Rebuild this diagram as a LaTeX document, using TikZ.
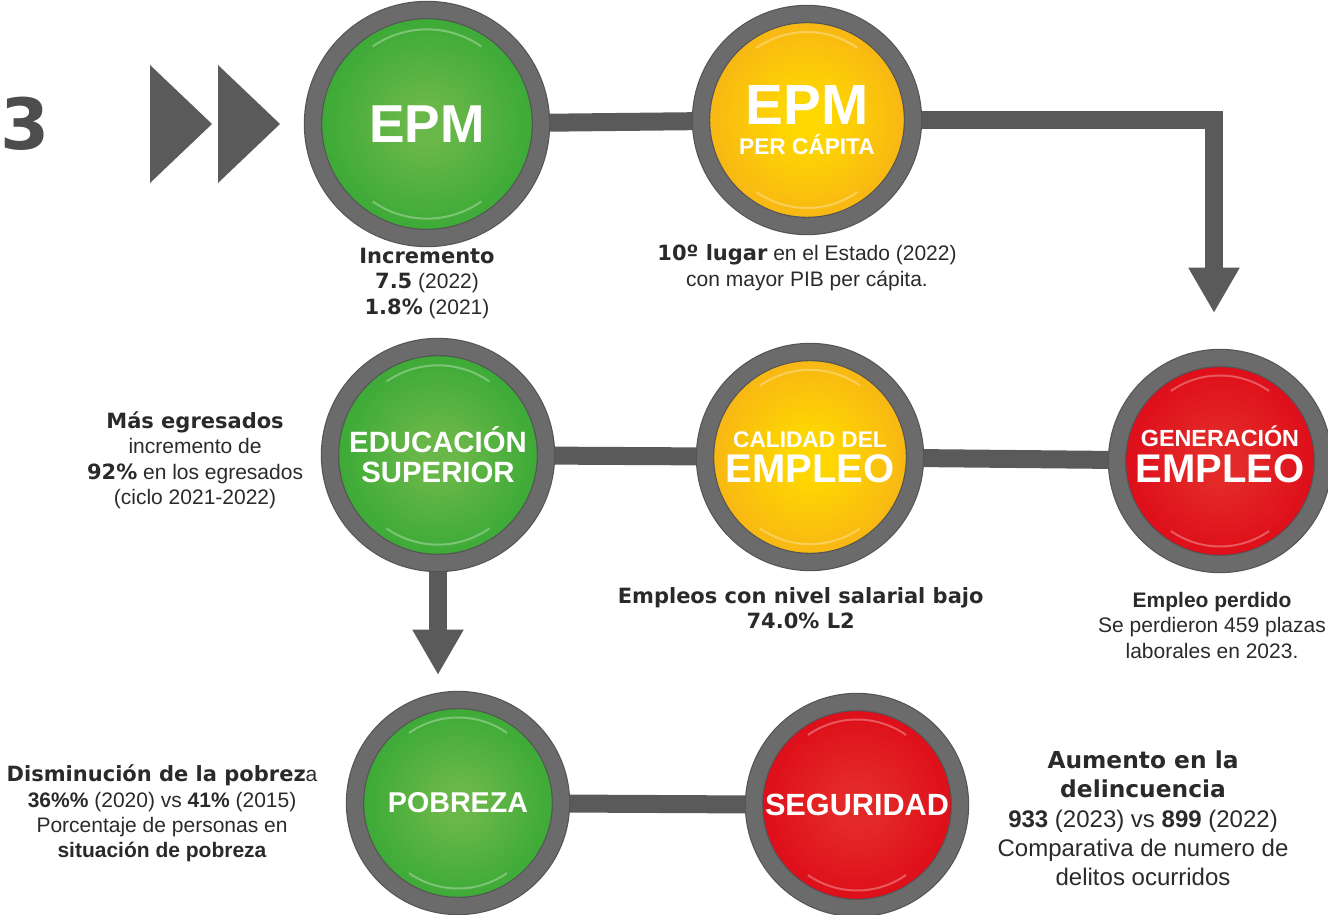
\documentclass[tikz,border=0pt]{standalone}
\usepackage{fontspec}
\setmainfont{Liberation Sans}
\newfontfamily\heavyfont{DejaVu Sans}
\usepackage{xcolor}
\definecolor{greenin}{HTML}{68B748}
\definecolor{greenout}{HTML}{38A935}
\definecolor{yellowin}{HTML}{FFD700}
\definecolor{yellowout}{HTML}{F7B416}
\definecolor{redin}{HTML}{E42A28}
\definecolor{redout}{HTML}{DD0B18}
\definecolor{ringgray}{HTML}{6B6B6B}
\definecolor{ringedge}{HTML}{555555}
\definecolor{bargray}{HTML}{5A5A5A}
\definecolor{numgray}{HTML}{4D4D4D}
\definecolor{inkgray}{HTML}{2A2A2A}
\usetikzlibrary{positioning, calc, backgrounds, arrows.meta}
\pgfdeclareradialshading{glowgreen}{\pgfpointorigin}{color(0bp)=(greenin); color(5bp)=(greenin); color(25bp)=(greenout); color(50bp)=(greenout)}
\pgfdeclareradialshading{glowyellow}{\pgfpointorigin}{color(0bp)=(yellowin); color(5bp)=(yellowin); color(25bp)=(yellowout); color(50bp)=(yellowout)}
\pgfdeclareradialshading{glowred}{\pgfpointorigin}{color(0bp)=(redin); color(5bp)=(redin); color(25bp)=(redout); color(50bp)=(redout)}
\newcommand{\hv}[1]{{\heavyfont\bfseries #1}}

\begin{document}
\begin{tikzpicture}[
  x=0.75pt, y=0.75pt,
  ring/.style={circle, inner sep=0pt, outer sep=0pt, draw=ringedge, line width=0.9pt,
               double=ringgray, double distance=12pt, shade, text=white, align=center},
  greenball/.style={ring, shading=glowgreen},
  yellowball/.style={ring, shading=glowyellow},
  redball/.style={ring, shading=glowred},
  info/.style={inner sep=0pt, align=center, text=inkgray,
               font=\fontsize{15.75}{19}\selectfont},
  bar/.style={draw=bargray, line width=13.5pt},
  bigarrow/.style={bar, -{Triangle[length=34pt, width=36pt]}},
  gloss/.style={draw=white, draw opacity=.3, line width=1.5pt}
]
  \useasboundingbox (0,0) rectangle (1328,914);

  % step number and play marks
  \node[anchor=west, inner sep=0pt, text=numgray,
        font=\heavyfont\bfseries\fontsize{53}{53}\selectfont] (num) at (0,790) {3};
  \fill[bargray] (150,849) -- (212,790) -- (150,731) -- cycle;
  \fill[bargray] (218,849) -- (280,790) -- (218,731) -- cycle;

  % indicators
  \node[greenball, minimum size=171pt, font=\bfseries\fontsize{40}{40}\selectfont]
    (epm) at (427,790) {EPM};
  \node[yellowball, minimum size=159pt, font=\bfseries\fontsize{17}{22}\selectfont]
    (epmpc) at (807,794) {\fontsize{42.5}{42.5}\selectfont EPM\\PER CÁPITA};
  \node[greenball, minimum size=162pt, font=\bfseries\fontsize{22}{22.5}\selectfont]
    (edu) at (438,459) {EDUCACIÓN\\SUPERIOR};
  \node[yellowball, minimum size=157.5pt, font=\bfseries\fontsize{17}{26}\selectfont]
    (cal) at (810,457) {CALIDAD DEL\\\fontsize{30}{30}\selectfont EMPLEO};
  \node[redball, minimum size=154.5pt, font=\bfseries\fontsize{17.5}{27}\selectfont,
        text depth=10pt] (gen) at (1220,453) {GENERACIÓN\\\fontsize{30}{30}\selectfont EMPLEO};
  \node[greenball, minimum size=154.5pt, font=\bfseries\fontsize{21.5}{21.5}\selectfont]
    (pob) at (458,111) {POBREZA};
  \node[redball, minimum size=154.5pt, font=\bfseries\fontsize{23}{23}\selectfont]
    (seg) at (857,109) {SEGURIDAD};

  % data labels
  \node[info, below=7.5pt of epm] (incr)
    {\hv{Incremento}\\\hv{7.5} (2022)\\\hv{1.8\%} (2021)};
  \node[info, below=14pt of epmpc] (lugar)
    {\hv{10º lugar} en el Estado (2022)\\con mayor PIB per cápita.};
  \node[info, left=20pt of edu, yshift=-4pt] (egre)
    {\hv{Más egresados}\\incremento de\\\hv{92\%} en los egresados\\(ciclo 2021-2022)};
  \node[info, below=19pt of cal, xshift=-7pt] (sal)
    {\hv{Empleos con nivel salarial bajo}\\\hv{74.0\% L2}};
  \node[info, below=21pt of gen, xshift=-6pt] (perd)
    {\textbf{Empleo perdido}\\Se perdieron 459 plazas\\laborales en 2023.};
  \node[info, left=28pt of pob, yshift=-8pt] (pobre)
    {\hv{Disminución de la pobrez}a\\\textbf{36\%\%} (2020) vs \textbf{41\%} (2015)\\
     Porcentaje de personas en\\\textbf{situación de pobreza}};
  \node[info, right=28pt of seg, yshift=-10pt, font=\fontsize{18}{22}\selectfont] (deli)
    {\hv{\fontsize{17.5}{22}\selectfont Aumento en la}\\\hv{\fontsize{17.5}{22}\selectfont delincuencia}\\
     \textbf{933} (2023) vs \textbf{899} (2022)\\Comparativa de numero de\\delitos ocurridos};

  % connectors
  \coordinate (gentip) at (1214,601);
  \coordinate (pobtip) at (438,239);
  \begin{scope}[on background layer]
    \draw[bar] (epm) -- (epmpc);
    \draw[bigarrow] (epmpc) -| (gentip);
    \draw[bar] (edu) -- (cal);
    \draw[bar] (cal) -- (gen);
    \draw[bigarrow] (edu) -- (pobtip);
    \draw[bar] (pob) -- (seg);
  \end{scope}

  % gloss highlights
  \foreach \obj in {epm,epmpc,edu,cal,gen,pob,seg}{
    \draw[gloss] let \p1=($(\obj.north)-(\obj.center)$), \n1={0.83*\y1} in
      ($(\obj.center)+(55:\n1)$) arc[start angle=55, end angle=125, radius=\n1]
      ($(\obj.center)+(235:\n1)$) arc[start angle=235, end angle=305, radius=\n1];
  }
\end{tikzpicture}
\end{document}
